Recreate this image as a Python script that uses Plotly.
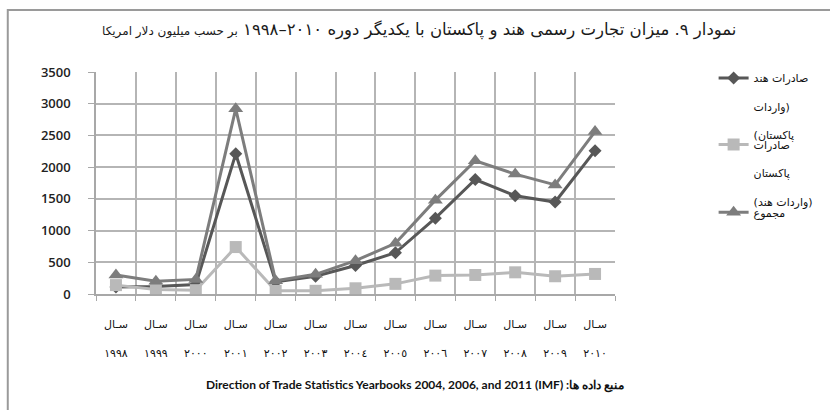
import plotly.graph_objects as go

# Data (million US$)
years = ["١٩٩٨", "١٩٩٩", "٢٠٠٠", "٢٠٠١", "٢٠٠٢", "٢٠٠٣", "٢٠٠٤",
         "٢٠٠٥", "٢٠٠٦", "٢٠٠٧", "٢٠٠٨", "٢٠٠٩", "٢٠١٠"]
india_exports = [110, 120, 150, 2210, 190, 280, 450, 650, 1195, 1805, 1550, 1450, 2260]
pakistan_exports = [140, 70, 60, 740, 50, 50, 90, 160, 290, 300, 342, 280, 316]
total_trade = [300, 200, 230, 2920, 210, 310, 526, 800, 1480, 2100, 1890, 1720, 2560]

y_ticks = [0, 500, 1000, 1500, 2000, 2500, 3000, 3500]

categories = ["سـال<br><br>" + y for y in years]

title_main = "نمودار ۹. میزان تجارت رسمی هند و پاکستان با یکدیگر دوره ۲۰۱۰–۱۹۹۸"
title_unit = "بر حسب میلیون دلار امریکا"
title_text = title_main + " <span style='font-size:12px'>" + title_unit + "</span>"
source_text = "Direction of Trade Statistics Yearbooks 2004, 2006, and 2011 (IMF) :منبع داده ها"

fig = go.Figure()

fig.add_trace(go.Scatter(
    x=categories, y=india_exports,
    mode="lines+markers",
    name="صادرات هند<br><br>واردات)<br><br>(پاکستان",
    line=dict(color="#575757", width=3),
    marker=dict(symbol="diamond", size=10, color="#575757"),
    legend="legend",
))
fig.add_trace(go.Scatter(
    x=categories, y=pakistan_exports,
    mode="lines+markers",
    name="صادرات<br><br>پاکستان<br><br>(واردات هند)",
    line=dict(color="#b9b9b9", width=3),
    marker=dict(symbol="square", size=12, color="#b9b9b9"),
    legend="legend2",
))
fig.add_trace(go.Scatter(
    x=categories, y=total_trade,
    mode="lines+markers",
    name="مجموع",
    line=dict(color="#7d7d7d", width=3),
    marker=dict(symbol="triangle-up", size=13, color="#7d7d7d"),
    legend="legend3",
))

legend_style = dict(
    xanchor="left", yanchor="top", x=1.19,
    font=dict(family="DejaVu Sans", size=11, color="#111"),
    bgcolor="rgba(0,0,0,0)", valign="top", itemwidth=30,
)

# Outer frame (only top and left edges visible in the picture)
frame = dict(type="rect", xref="paper", yref="paper",
             x0=-0.170, x1=1.45, y0=-0.6, y1=1.279,
             line=dict(color="#9a9a9a", width=2), layer="below")

fig.update_layout(
    width=830, height=410,
    margin=dict(l=96, r=210, t=72, b=116),
    paper_bgcolor="white", plot_bgcolor="white",
    font=dict(family="Open Sans", color="#222"),
    showlegend=True,
    legend=dict(**legend_style, y=1.035),
    legend2=dict(**legend_style, y=0.735),
    legend3=dict(**legend_style, y=0.43),
    shapes=[frame],
    xaxis=dict(
        type="category",
        range=[-0.5, 12.5],
        tickson="boundaries",
        ticks="outside", ticklen=5, tickcolor="#a8a8a8",
        showgrid=True, gridcolor="#b5b5b5", gridwidth=1.5,
        showline=True, linecolor="#a8a8a8", linewidth=1.5,
        tickfont=dict(family="DejaVu Sans", size=11, color="#111"),
        ticklabelstandoff=19,
        fixedrange=True,
    ),
    yaxis=dict(
        range=[0, 3500],
        tickvals=y_ticks,
        ticks="outside", ticklen=6, tickcolor="#a8a8a8",
        showgrid=True, gridcolor="#b5b5b5", gridwidth=1.5,
        showline=True, linecolor="#a8a8a8", linewidth=1.5,
        zeroline=False,
        tickfont=dict(family="Open Sans", size=13, color="#222", weight=600),
        ticklabelstandoff=15,
        fixedrange=True,
    ),
    annotations=[
        dict(text=title_text, xref="paper", yref="paper", x=0.622, y=1.19,
             showarrow=False, xanchor="center", yanchor="middle",
             font=dict(family="DejaVu Sans", size=16.5, color="#1a1a1a")),
        dict(text=source_text, xref="paper", yref="paper", x=0.615, y=-0.41,
             showarrow=False, xanchor="center", yanchor="middle",
             font=dict(family="Lato", size=12, color="#111", weight=700)),
    ],
)

# the page body has a default 8px margin; drop it so the figure sits at 0,0
fig.write_html("out.html", config={"displayModeBar": False},
               post_script="document.body.style.margin='0';")
